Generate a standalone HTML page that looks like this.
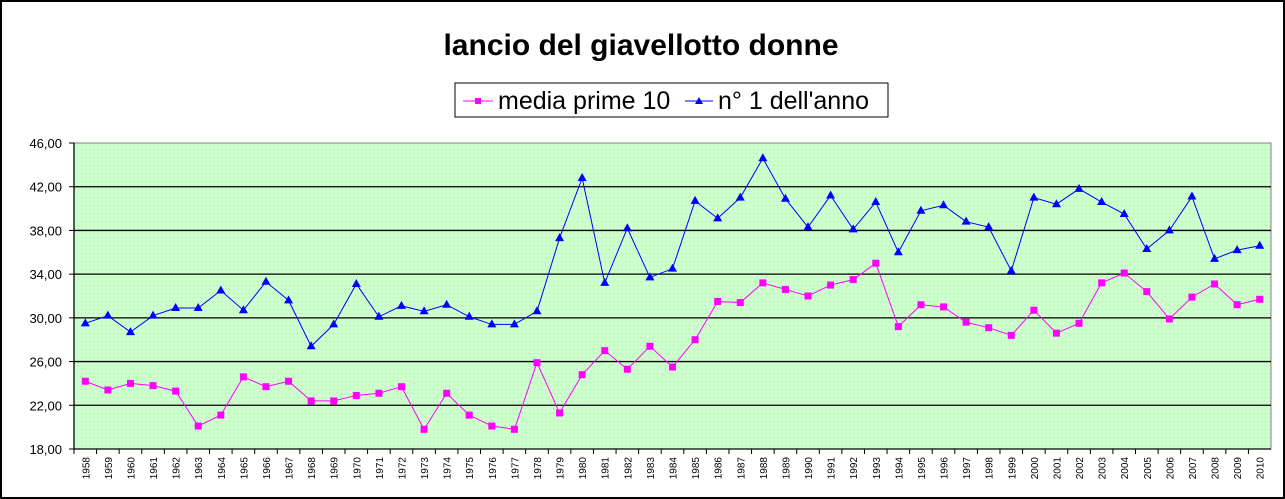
<!DOCTYPE html>
<html><head><meta charset="utf-8"><style>
body{margin:0;background:#fff}
svg{display:block;font-family:"Liberation Sans",Arial,sans-serif}
</style></head><body>
<svg id="chart" width="1285" height="499">
<defs><pattern id="dots" width="4" height="4" patternUnits="userSpaceOnUse"><rect width="4" height="4" fill="#ccffcc"/><rect x="1" y="1" width="1" height="1" fill="#b8e6b8"/></pattern></defs>
<rect x="1" y="1" width="1283" height="497" fill="#fff" stroke="#000" stroke-width="2"/>
<text x="641" y="55" text-anchor="middle" font-size="30" font-weight="bold">lancio del giavellotto donne</text>
<g>
<rect x="455" y="83" width="433" height="34" fill="#fff" stroke="#000"/>
<g>
<line x1="463" y1="101" x2="493" y2="101" stroke="#ff00ff"/><rect x="475" y="98" width="6" height="6" fill="#ff00ff"/>
<text x="498" y="109" font-size="25">media prime 10</text></g>
<g>
<line x1="685" y1="101" x2="713" y2="101" stroke="#0000ff"/><polygon points="699,97 703,104 695,104" fill="#0000ff"/>
<text x="718" y="109" font-size="25">n° 1 dell'anno</text></g>
</g>
<rect x="74" y="143" width="1197" height="306" fill="url(#dots)" stroke="#808080"/>
<g id="grid"></g><g id="axes"></g><g id="series"></g>
</svg>
<script>
const years=[];for(let y=1958;y<=2010;y++)years.push(String(y));
const yTicks=[18,22,26,30,34,38,42,46];
const yTickLabels=["18,00","22,00","26,00","30,00","34,00","38,00","42,00","46,00"];
const media=[24.2,23.4,24.0,23.8,23.3,20.1,21.1,24.6,23.7,24.2,22.4,22.4,22.9,23.1,23.7,19.8,23.1,21.1,20.1,19.8,25.9,21.3,24.8,27.0,25.3,27.4,25.5,28.0,31.5,31.4,33.2,32.6,32.0,33.0,33.5,35.0,29.2,31.2,31.0,29.6,29.1,28.4,30.7,28.6,29.5,33.2,34.1,32.4,29.9,31.9,33.1,31.2,31.7];
const best=[29.5,30.2,28.7,30.2,30.9,30.9,32.5,30.7,33.3,31.6,27.4,29.4,33.1,30.1,31.1,30.6,31.2,30.1,29.4,29.4,30.6,37.3,42.8,33.2,38.2,33.7,34.5,40.7,39.1,41.0,44.6,40.9,38.3,41.2,38.1,40.6,36.0,39.8,40.3,38.8,38.3,34.3,41.0,40.4,41.8,40.6,39.5,36.3,38.0,41.1,35.4,36.2,36.6];
const L=74,R=1271,T=143,B=449,ymin=18,ymax=46;
const bw=(R-L)/years.length;
const X=i=>L+(i+0.5)*bw;
const Y=v=>B-(v-ymin)/(ymax-ymin)*(B-T);
const NS="http://www.w3.org/2000/svg";
function mk(tag,attrs,parent){const e=document.createElementNS(NS,tag);for(const k in attrs)e.setAttribute(k,attrs[k]);parent.appendChild(e);return e;}
const grid=document.getElementById('grid'),axes=document.getElementById('axes'),ser=document.getElementById('series');
yTicks.forEach((v,i)=>{
 if(v>ymin&&v<ymax){const g=mk('line',{x1:L,x2:R,y1:Y(v),y2:Y(v),stroke:'#000','stroke-width':1.3},grid);
 
 }
 const t=mk('text',{x:L-12,y:Y(v)+5,'text-anchor':'end','font-size':13},axes);t.textContent=yTickLabels[i];
 
 
 mk('line',{x1:L-5,x2:L,y1:Y(v),y2:Y(v),stroke:'#000'},axes);
});
mk('line',{x1:L,x2:L,y1:T,y2:B,stroke:'#000','stroke-width':1.3},axes);
mk('line',{x1:L,x2:R,y1:B,y2:B,stroke:'#000','stroke-width':1.3},axes);
years.forEach((yr,i)=>{
 mk('line',{x1:L+i*bw,x2:L+i*bw,y1:B,y2:B+5,stroke:'#000'},axes);
 const t=mk('text',{x:0,y:0,'text-anchor':'end','font-size':10,transform:`translate(${X(i)+4},${B+8}) rotate(-90)`},axes);t.textContent=yr;
 
 
});
function line(data,color,name,marker){
 const p=mk('polyline',{points:data.map((v,i)=>X(i)+','+Y(v)).join(' '),fill:'none',stroke:color,'stroke-width':1},ser);
 
 
 data.forEach((v,i)=>{let m;
  if(marker==='sq')m=mk('rect',{x:X(i)-3.5,y:Y(v)-3.5,width:7,height:7,fill:color},ser);
  else m=mk('polygon',{points:`${X(i)},${Y(v)-5} ${X(i)+4.5},${Y(v)+3} ${X(i)-4.5},${Y(v)+3}`,fill:color},ser);
  
  
 });
}
line(media,'#ff00ff','media-prime-10','sq');
line(best,'#0000ff','n1-anno','tri');
</script>
</body></html>
